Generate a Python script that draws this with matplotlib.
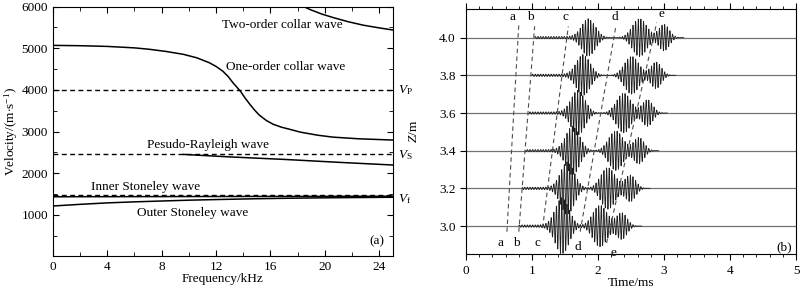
#!/usr/bin/env python3
import matplotlib
matplotlib.use("Agg")
import matplotlib.pyplot as plt
import numpy as np

# =========================
# Data
# =========================

# (a) dispersion curves: frequency in kHz, velocity in m/s
first_f = [0, 2, 4, 6, 7.1, 8.3, 9.6, 10.6, 11.5, 12.0, 12.5, 12.9, 13.25, 13.55, 13.8,
           14.15, 14.5, 14.85, 15.2, 15.7, 16.2, 16.8, 17.4, 18.2, 19.5, 20.6, 22.5, 25]
first_v = [5070, 5062, 5045, 5010, 4976, 4925, 4855, 4770, 4654, 4565, 4450, 4320, 4170, 4060, 3966,
           3800, 3650, 3510, 3390, 3265, 3175, 3105, 3055, 2985, 2910, 2865, 2825, 2795]

second_f = [18.45, 19, 19.8, 20.6, 21.7, 22.8, 24, 25]
second_v = [6000, 5920, 5820, 5740, 5640, 5557, 5490, 5440]

rayleigh_f = [9.6, 13, 17, 21, 25]
rayleigh_v = [2450, 2390, 2330, 2260, 2195]

outer_f = [0, 2, 4, 6, 8, 10, 12, 15, 18, 21, 25]
outer_v = [1210, 1250, 1285, 1310, 1330, 1350, 1365, 1385, 1400, 1410, 1420]

inner_f = [0, 25]
inner_v = [1432, 1445]

VP, VS, VF = 4000, 2460, 1475

# (b) waveform packets per receiver depth (times in ms)
depths = [3.0, 3.2, 3.4, 3.6, 3.8, 4.0]
ripple_start = [0.80, 0.85, 0.90, 0.95, 1.00, 1.04]
c_center = [1.46, 1.54, 1.62, 1.70, 1.78, 1.86]
c_amp = [0.145, 0.135, 0.125, 0.115, 0.105, 0.095]
d_center = [2.03, 2.15, 2.27, 2.39, 2.51, 2.63]
d_amp = [0.11, 0.11, 0.105, 0.105, 0.10, 0.10]
e_center = [2.36, 2.49, 2.62, 2.75, 2.88, 3.00]
e_amp = [0.07, 0.07, 0.07, 0.07, 0.07, 0.07]
carrier_khz = 25.0

# dashed moveout guides: a, b, c, d, e
guide_names = ["a", "b", "c", "d", "e"]
guide_t0 = [0.62, 0.80, 1.16, 1.73, 2.13]
guide_z0 = [2.97, 2.97, 2.99, 2.97, 2.91]
guide_t1 = [0.80, 1.04, 1.55, 2.27, 2.89]
guide_z1 = [4.07, 4.06, 4.06, 4.06, 4.08]
label_top_t = [0.71, 0.98, 1.50, 2.26, 2.96]
label_top_z = [4.075, 4.075, 4.075, 4.075, 4.095]
label_bot_t = [0.52, 0.77, 1.08, 1.70, 2.23]
label_bot_z = [2.94, 2.94, 2.94, 2.92, 2.89]

# =========================
# Style
# =========================
plt.rcParams["font.family"] = ["Liberation Serif", "DejaVu Serif"]
plt.rcParams["mathtext.fontset"] = "custom"
plt.rcParams["mathtext.rm"] = "Liberation Serif"
plt.rcParams["mathtext.it"] = "Liberation Serif:italic"
FS = 9.5

fig = plt.figure(figsize=(8, 2.9), dpi=100)
ax1 = fig.add_axes([0.066, 0.116, 0.425, 0.861])
ax2 = fig.add_axes([0.5825, 0.123, 0.4125, 0.846])

# =========================
# Panel (a)
# =========================
for f, v in [(first_f, first_v), (second_f, second_v), (rayleigh_f, rayleigh_v),
             (outer_f, outer_v), (inner_f, inner_v)]:
    ax1.plot(f, v, color="black", lw=1.1)
for v in (VP, VS, VF):
    ax1.axhline(v, color="black", lw=1.0, dashes=(3.5, 2.5))

ax1.set_xlim(0, 25)
ax1.set_ylim(0, 6000)
ax1.set_xticks(np.arange(0, 25, 4))
ax1.set_xticks(np.arange(0, 26, 2), minor=True)
ax1.set_yticks(np.arange(1000, 6001, 1000))
ax1.set_yticks(np.arange(500, 6001, 500), minor=True)
ax1.tick_params(which="both", direction="in", top=True, right=True, labelsize=FS)
ax1.tick_params(which="major", length=4)
ax1.tick_params(which="minor", length=3)
ax1.set_xlabel("Frequency/kHz", fontsize=FS, labelpad=0)
ax1.set_ylabel(r"Velocity/(m$\cdot$s$^{\mathrm{-1}}$)", fontsize=FS)
ax1.yaxis.set_label_coords(-0.097, 0.5)

ax1.text(16.9, 5570, "Two-order collar wave", fontsize=FS, ha="center", va="center")
ax1.text(17.1, 4540, "One-order collar wave", fontsize=FS, ha="center", va="center")
ax1.text(11.4, 2680, "Pesudo-Rayleigh wave", fontsize=FS, ha="center", va="center")
ax1.text(6.8, 1660, "Inner Stoneley wave", fontsize=FS, ha="center", va="center")
ax1.text(10.3, 1035, "Outer Stoneley wave", fontsize=FS, ha="center", va="center")
ax1.text(23.8, 360, "(a)", fontsize=FS, ha="center", va="center")

ax1.text(25.4, VP, r"$V_{\mathrm{P}}$", fontsize=FS, ha="left", va="center")
ax1.text(25.4, VS - 30, r"$V_{\mathrm{S}}$", fontsize=FS, ha="left", va="center")
ax1.text(25.4, VF - 90, r"$V_{\mathrm{f}}$", fontsize=FS, ha="left", va="center")

# =========================
# Panel (b)
# =========================
t = np.linspace(0, 5, 8001)
for i, z in enumerate(depths):
    sig = np.zeros_like(t)
    for cen, amp, sd in [(c_center[i], c_amp[i], 0.105),
                         (d_center[i], d_amp[i], 0.11),
                         (e_center[i], e_amp[i], 0.08)]:
        sig += amp * np.exp(-0.5 * ((t - cen) / sd) ** 2)
    # weak precursor between b and c arrivals
    sig += np.where((t > ripple_start[i]) & (t < c_center[i]), 0.006, 0.0)
    wave = sig * np.sin(2 * np.pi * carrier_khz * t)
    ax2.axhline(z, color="0.45", lw=0.9)
    mask = (t > ripple_start[i]) & (t < e_center[i] + 0.3)
    ax2.plot(t[mask], z + wave[mask], color="0.12", lw=0.6)

for i, name in enumerate(guide_names):
    ax2.plot([guide_t0[i], guide_t1[i]], [guide_z0[i], guide_z1[i]],
             color="0.3", lw=0.8, dashes=(4, 3))
    ax2.text(label_top_t[i], label_top_z[i], name, fontsize=FS, ha="center", va="bottom")
    ax2.text(label_bot_t[i], label_bot_z[i], name, fontsize=FS, ha="center", va="top")

ax2.text(4.82, 2.89, "(b)", fontsize=FS, ha="center", va="center")
ax2.set_xlim(0, 5)
ax2.set_ylim(2.85, 4.152)
ax2.set_xticks(np.arange(0, 6, 1))
ax2.set_xticks(np.arange(0, 5.01, 0.2), minor=True)
ax2.set_yticks(depths)
ax2.tick_params(which="both", direction="out", top=True, right=False, labelsize=FS)
ax2.tick_params(which="major", length=4)
ax2.tick_params(which="minor", length=2.5)
ax2.set_xlabel("Time/ms", fontsize=FS, labelpad=0)
ax2.set_ylabel(r"$Z$/m", fontsize=FS, labelpad=14)
ax2.yaxis.set_major_formatter(matplotlib.ticker.FormatStrFormatter("%.1f"))

fig.savefig("out.png", dpi=100)
